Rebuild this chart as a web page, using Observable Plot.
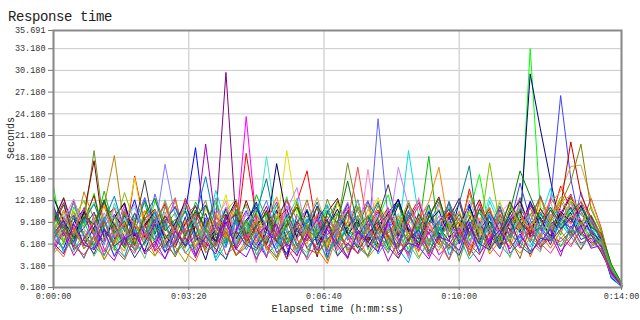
<!DOCTYPE html>
<html><head><meta charset="utf-8">
<script src="https://cdn.jsdelivr.net/npm/d3@7"></script>
<script src="https://cdn.jsdelivr.net/npm/@observablehq/plot@0.6"></script>
<style>
body{margin:0;background:#fff;}
#title{font-family:"Liberation Mono",monospace;font-size:14px;letter-spacing:-0.4px;color:#222;height:24px;line-height:34px;padding-left:8px;overflow:visible;white-space:nowrap;}
</style></head><body>
<div id="title">Response time</div>
<div id="chart"></div>
<script>
const times = [0,15,30,45,60,75,90,105,120,135,150,165,180,195,210,225,240,255,270,285,300,315,330,345,360,375,390,405,420,435,450,465,480,495,510,525,540,555,570,585,600,615,630,645,660,675,690,705,720,735,750,765,780,795,810,825,840];
const yTicks = [0.18,3.18,6.18,9.18,12.18,15.18,18.18,21.18,24.18,27.18,30.18,33.18,35.691];
const xTicks = [0,200,400,600,840];
const colors = ["#800080","#ff00ff","#ff0000","#00ff00","#000080","#4040ff","#6060ff","#00e0e0","#00c000","#e0a040","#c00000","#808000","#6b8e23","#b8860b","#800000","#0000ff","#a000c0","#8080ff","#e0e000","#40e0d0","#000060","#ff8000","#008080","#ff80c0","#80c000","#0080c0","#404040","#c080ff","#008000","#ff4040","#c000c0","#00a0ff","#ff6000","#60c060","#a0a000","#3030a0","#e04080","#00c080","#8000ff","#a05020"];

const s00 = [8.2,6.5,10.1,7.4,5.9,9.8,11.2,7.0,5.4,8.8,10.5,6.9,8.1,12.0,7.3,5.8,9.6,29.9,9.2,6.4,8.7,11.4,7.5,4.1,9.1,10.8,6.6,8.3,12.1,7.7,5.6,9.4,8.0,11.0,6.8,4.9,8.6,10.3,7.1,9.9,6.2,8.5,11.7,7.6,5.5,9.0,10.6,7.2,8.4,6.1,9.5,11.3,7.9,6.3,7.0,2.2,0.5];
const s01 = [7.1,9.4,5.8,10.6,8.2,4.6,7.9,11.5,6.3,9.0,5.2,8.7,12.4,7.0,4.8,9.3,6.6,10.2,8.0,23.8,9.1,5.6,7.4,11.0,6.0,4.3,8.5,10.9,7.2,5.9,9.7,12.2,6.8,5.0,8.3,10.5,7.6,4.5,9.2,11.8,6.4,8.0,5.3,10.1,7.8,9.6,12.6,6.9,5.4,8.8,10.4,7.3,11.6,8.1,6.2,1.6,0.3];
const s02 = [10.2,8.4,12.1,6.9,9.5,11.8,7.3,5.7,15.6,8.9,6.4,10.0,7.7,12.5,9.2,5.5,8.1,11.1,7.0,18.7,9.8,6.3,10.7,8.5,12.0,16.3,7.9,5.4,9.4,11.2,6.7,8.8,10.9,7.4,5.9,9.9,12.3,8.2,6.1,10.4,7.5,13.8,9.0,6.6,11.4,8.0,10.1,7.2,12.8,9.3,14.2,11.0,8.7,12.5,8.4,2.9,0.6];
const s03 = [14.2,6.1,11.3,8.6,13.2,7.4,5.3,10.5,8.0,6.7,12.1,9.4,7.0,5.6,10.8,8.3,11.9,6.5,9.1,7.8,3.9,10.3,8.8,12.7,6.9,9.6,7.3,11.5,5.8,8.4,10.0,6.2,9.7,13.0,7.6,5.5,8.9,11.1,6.8,9.3,7.2,10.6,15.8,8.1,6.4,9.9,7.7,33.2,11.0,8.5,10.2,7.1,9.4,6.9,7.8,2.6,0.4];
const s04 = [11.5,7.2,9.8,6.0,8.4,12.3,6.9,10.1,7.6,5.2,9.0,11.7,7.9,5.8,8.6,10.4,6.3,9.5,12.2,7.1,5.6,8.0,10.9,6.8,9.3,7.5,11.4,4.3,8.7,10.6,7.0,9.9,6.1,8.2,11.6,7.8,5.9,10.0,8.5,6.6,12.0,7.3,9.2,5.7,10.3,8.1,9.0,29.7,22.1,15.0,8.3,10.5,7.4,9.6,6.5,2.0,0.5];
const s05 = [6.8,9.9,7.5,11.2,5.4,8.7,10.3,6.2,9.1,12.6,7.4,5.0,8.9,10.7,6.5,9.8,7.1,5.7,11.0,8.2,6.0,9.4,12.0,7.8,5.5,8.6,10.1,6.7,9.3,7.0,11.3,8.0,5.8,9.7,12.4,6.6,8.3,10.8,7.2,4.0,9.0,11.5,7.6,6.1,10.2,8.8,14.6,9.5,7.3,12.1,26.7,15.2,8.4,10.0,7.1,2.5,0.7];
const s06 = [9.6,12.4,7.8,5.9,10.3,8.1,6.4,11.0,9.2,7.0,13.1,8.5,6.2,9.9,11.6,7.4,5.8,8.8,10.5,6.9,9.1,12.2,7.5,4.7,8.3,10.7,6.6,9.4,7.9,11.8,8.2,6.3,23.5,9.7,7.1,10.9,5.7,8.6,12.0,7.2,9.8,6.0,11.2,8.4,5.5,10.1,7.7,9.3,12.9,8.0,10.6,7.3,13.4,9.0,6.8,1.9,0.4];
const s07 = [5.8,8.3,10.6,7.1,9.4,6.0,11.8,8.7,5.3,9.9,7.5,12.3,8.0,6.4,10.2,7.7,13.6,9.0,6.6,8.5,11.1,7.2,5.5,9.6,12.5,6.9,8.4,10.8,7.3,4.2,9.2,11.5,6.8,8.9,7.4,19.1,10.0,6.2,8.1,11.3,7.0,9.5,5.9,12.1,8.6,6.5,10.4,7.8,9.7,13.9,8.2,11.0,7.5,8.8,6.0,1.4,0.3];
const s08 = [12.8,9.1,6.7,10.4,7.9,13.5,8.2,5.6,9.8,11.9,6.3,8.7,10.5,7.2,12.0,9.3,6.1,8.0,10.9,7.6,13.0,9.7,6.4,8.8,11.3,7.0,5.7,9.5,12.1,8.3,6.9,10.2,7.7,5.4,9.0,11.4,8.1,18.3,7.3,9.9,12.4,6.7,8.5,10.8,7.1,9.4,6.2,11.7,8.6,10.3,7.4,12.5,9.2,7.9,6.6,2.3,0.5];
const s09 = [7.3,10.0,8.4,6.2,9.6,11.4,7.7,4.3,8.9,10.8,6.6,9.2,12.0,7.9,5.8,8.5,10.6,7.0,9.8,6.4,11.2,8.1,6.8,10.3,7.5,9.0,12.6,8.2,5.6,9.4,7.1,11.0,8.7,6.3,10.1,7.8,9.3,5.9,11.7,8.0,6.5,9.9,7.4,10.7,8.3,12.2,9.1,7.6,10.5,11.8,13.5,16.9,17.1,12.4,8.2,3.1,0.8];
const s10 = [8.8,11.6,7.0,9.5,12.9,6.8,10.2,8.1,5.9,9.7,11.0,7.4,6.1,9.0,10.6,8.3,12.5,7.1,5.6,9.3,7.8,10.9,6.5,8.6,11.8,7.2,9.9,5.8,10.4,8.0,12.3,6.7,9.1,11.2,7.6,8.4,6.0,10.0,12.7,7.9,9.2,4.6,8.9,11.1,6.9,10.5,8.2,12.0,9.6,7.3,11.4,20.3,13.0,9.8,7.2,2.8,0.4];
const s11 = [6.1,8.0,10.7,7.3,5.4,9.1,11.3,6.8,8.6,7.0,10.0,5.7,8.4,12.1,6.9,9.5,7.6,11.0,5.9,8.2,10.4,7.1,9.7,6.0,8.8,12.3,7.4,3.9,9.2,10.6,6.5,8.1,11.5,7.7,9.6,6.2,10.3,8.5,7.0,12.0,8.7,10.2,6.6,9.3,7.5,11.2,8.0,10.1,12.6,9.4,11.7,14.8,20.0,11.0,8.0,3.3,0.7];
const s12 = [10.5,7.6,12.0,9.1,19.1,8.4,6.2,10.8,7.5,9.9,6.4,11.3,8.6,5.8,9.4,12.2,7.0,8.9,10.6,6.7,9.2,7.8,11.6,5.9,8.3,10.1,7.3,12.4,8.8,17.4,10.7,7.9,5.6,9.5,11.9,6.9,8.2,10.4,7.4,9.0,3.8,8.5,11.0,7.2,9.8,6.3,12.5,8.1,7.0,10.9,9.3,12.1,8.6,10.2,7.5,2.4,0.5];
const s13 = [8.0,10.9,7.2,13.4,9.6,11.5,18.4,8.3,6.0,9.4,7.7,10.3,12.6,6.6,8.8,5.9,10.0,7.4,9.2,11.7,6.3,8.6,10.5,7.9,4.5,9.0,11.2,8.1,6.8,10.2,7.5,9.8,12.1,6.2,8.4,10.7,7.1,5.7,9.1,11.0,7.8,13.2,8.9,6.4,10.4,8.2,11.6,9.0,7.3,10.0,12.2,9.5,11.3,8.7,7.0,2.7,0.6];
const s14 = [9.3,12.6,8.1,10.4,17.7,7.2,9.8,11.9,6.8,8.5,10.9,7.4,5.7,9.1,11.4,8.0,6.5,10.1,7.8,12.2,8.3,6.1,9.6,11.0,7.0,8.7,4.4,10.6,12.5,7.6,9.2,6.4,8.8,10.3,7.3,11.8,9.0,6.7,8.2,10.5,7.1,9.7,12.3,8.4,6.0,9.4,10.8,7.5,11.1,8.9,10.0,12.8,9.4,7.7,6.9,1.8,0.3];
const s15 = [7.0,5.6,9.2,11.0,7.8,6.3,10.1,8.5,12.3,7.1,9.6,5.9,8.3,10.7,19.5,8.0,6.6,11.2,7.4,9.0,12.0,6.8,8.9,4.1,10.3,7.7,9.5,11.6,6.2,8.6,10.0,7.2,5.8,9.3,12.4,8.1,6.9,10.6,7.5,9.9,6.4,11.3,8.2,10.0,5.6,9.1,7.9,12.1,8.6,6.7,9.8,8.3,10.9,7.4,5.9,1.5,0.4];
const s16 = [11.2,8.6,6.4,9.9,7.3,12.1,8.8,6.1,10.5,7.6,5.8,9.3,11.4,7.9,8.5,20.0,9.1,6.7,8.2,10.8,7.2,4.3,9.7,12.3,8.0,6.6,10.2,7.5,9.0,11.7,6.3,8.4,10.6,7.0,5.6,9.5,11.9,8.3,6.8,9.8,12.5,7.7,9.4,6.2,10.9,8.1,7.0,11.5,9.7,8.4,10.3,13.1,9.0,8.0,6.4,2.1,0.6];
const s17 = [6.6,9.0,11.8,7.4,5.9,8.7,10.2,6.8,9.5,12.4,8.1,17.2,10.0,7.6,5.7,9.2,11.1,8.4,6.3,10.6,7.7,9.4,5.8,11.5,8.6,7.1,10.4,6.4,9.1,12.0,7.5,9.8,6.9,10.9,8.3,4.2,9.6,11.6,7.2,8.5,10.7,6.1,9.0,7.8,11.9,8.8,6.5,10.3,7.6,9.2,11.0,8.2,10.5,9.1,7.3,2.6,0.4];
const s18 = [9.7,7.1,10.8,8.4,6.0,11.6,9.2,7.5,15.4,8.0,6.3,10.5,7.8,9.6,5.7,11.1,8.5,13.0,7.2,9.0,10.7,6.8,8.3,19.1,10.4,7.0,9.3,5.9,11.9,8.6,7.3,10.1,12.6,8.8,6.5,9.4,7.7,11.3,8.2,5.8,9.1,10.6,7.4,8.7,12.2,6.9,9.8,8.1,11.4,10.0,8.5,12.3,10.8,8.9,7.6,3.0,0.8];
const s19 = [8.4,10.3,6.7,9.2,12.0,7.6,4.4,9.8,11.2,8.0,6.6,9.4,7.2,10.9,8.7,6.2,12.5,7.9,9.6,11.4,8.2,18.3,9.0,6.5,10.2,7.4,8.9,11.7,6.0,9.3,12.2,7.8,5.9,8.6,10.4,7.0,9.7,6.3,11.0,8.4,7.1,10.8,8.0,12.7,9.5,7.3,10.1,8.7,6.6,11.2,9.0,7.8,10.4,8.1,6.7,1.7,0.3];
const s20 = [12.5,9.4,7.0,10.7,8.2,6.5,9.9,11.8,7.3,8.9,10.6,6.8,9.1,12.0,7.6,4.0,8.8,10.3,6.9,9.5,11.3,8.0,17.3,9.7,7.2,10.9,6.1,8.5,11.0,7.4,9.6,5.7,8.3,10.5,12.3,7.9,6.4,9.2,10.8,7.1,8.6,11.7,6.7,9.3,7.5,10.4,12.1,8.4,9.9,7.0,10.7,9.2,11.5,8.3,6.1,2.0,0.5];
const s21 = [7.8,10.6,8.3,6.1,9.7,11.4,7.5,9.0,6.4,10.8,8.6,12.1,7.0,9.3,5.9,8.1,10.5,7.3,11.9,8.8,6.6,9.4,12.7,7.7,8.5,6.2,10.3,9.1,7.4,4.1,9.9,11.5,8.2,6.9,10.1,7.6,9.5,12.0,16.8,8.3,10.7,7.2,9.6,11.3,6.8,8.9,10.4,7.9,12.4,9.8,12.0,12.9,10.2,9.0,7.4,2.9,0.6];
const s22 = [10.1,7.7,5.8,9.4,11.7,8.2,6.6,10.3,7.9,12.2,9.0,6.9,8.5,10.8,7.3,11.5,8.7,6.0,9.6,7.4,10.6,15.2,8.1,6.3,9.2,11.0,7.6,8.8,10.5,6.7,8.4,12.0,9.5,7.1,5.8,10.2,8.0,11.6,7.2,9.1,11.8,17.0,6.5,10.0,9.3,7.4,11.1,8.9,10.6,7.8,9.4,11.2,8.7,10.1,7.1,2.3,0.4];
const s23 = [5.9,8.8,10.4,7.1,9.6,6.3,11.3,8.0,5.6,9.2,10.9,7.5,6.2,8.7,10.3,7.0,9.5,12.1,6.5,8.3,3.6,9.9,7.8,10.6,6.6,11.8,8.5,7.2,9.4,10.7,6.1,16.5,7.4,11.1,9.0,6.4,12.6,8.2,10.0,7.3,8.6,5.8,9.7,7.0,10.5,11.9,8.4,6.9,9.3,12.0,8.0,10.2,9.6,7.5,6.3,1.9,0.3];
const s24 = [8.6,6.4,9.9,12.2,7.7,10.0,8.3,13.3,9.1,6.7,10.8,8.2,7.0,11.5,9.4,6.1,8.0,10.7,12.4,7.6,9.3,6.9,10.1,8.4,11.9,9.0,7.1,5.7,10.5,8.7,11.4,7.3,9.8,6.0,8.5,12.2,7.9,10.3,6.6,9.2,8.0,10.9,7.7,17.4,9.0,11.6,8.5,10.4,7.2,9.6,12.7,10.0,8.8,11.4,7.8,3.2,0.9];
const s25 = [11.0,8.5,10.2,7.3,6.0,9.4,12.8,7.9,10.4,8.1,6.8,9.5,11.2,7.7,10.0,15.5,8.6,6.3,9.9,7.2,11.7,8.4,6.6,10.3,7.8,9.1,12.0,6.9,8.2,10.6,7.5,9.3,11.9,8.5,6.2,10.7,7.3,9.6,8.0,12.1,6.7,9.0,10.5,8.3,11.4,7.1,9.5,6.4,10.3,8.6,9.9,7.7,11.1,9.3,6.8,2.4,0.3];
const s26 = [9.2,11.9,6.9,8.4,10.6,7.2,9.0,5.7,8.8,15.0,7.6,10.1,8.3,6.0,9.7,11.6,7.4,9.1,10.3,6.5,8.6,10.7,7.3,9.5,5.9,8.0,11.4,9.3,6.4,10.8,8.1,7.0,9.9,14.4,8.7,6.6,10.4,7.5,9.4,11.0,7.2,8.9,6.2,10.6,8.0,12.0,9.2,7.6,8.5,10.9,8.3,9.7,7.4,10.0,6.9,2.2,0.5];
const s27 = [7.5,9.6,12.4,8.2,6.8,10.5,7.1,9.3,11.7,6.4,8.9,10.6,7.7,12.0,9.0,6.6,8.4,11.3,7.8,10.2,9.4,7.0,8.8,10.9,14.0,7.5,9.7,4.8,8.6,11.1,9.8,7.2,10.4,8.0,16.8,11.4,8.9,7.4,10.1,9.2,6.9,12.2,8.7,10.5,7.3,9.6,11.5,8.8,7.0,10.3,9.1,11.8,8.0,9.6,7.2,2.5,0.6];
const s28 = [10.7,8.1,6.5,10.0,8.9,12.3,7.7,9.4,6.1,10.2,12.5,8.0,9.6,7.3,10.9,8.4,6.7,9.8,11.6,7.5,8.7,10.4,6.4,9.0,11.3,8.2,7.0,10.5,9.1,14.9,8.6,10.0,7.6,9.4,11.8,8.3,6.8,9.9,12.4,8.0,10.3,7.4,11.0,9.2,6.6,10.7,16.3,12.8,9.4,11.3,8.8,10.6,12.0,8.5,7.7,3.4,0.8];
const s29 = [6.9,9.8,8.0,11.1,7.4,9.5,6.2,10.6,8.7,7.0,9.3,11.8,6.6,8.2,10.4,7.1,9.9,8.6,12.0,6.8,10.1,8.5,7.2,12.3,9.6,6.7,8.1,10.0,7.6,9.2,16.8,8.4,6.9,10.3,7.8,9.1,11.4,6.5,8.8,10.6,9.5,7.5,11.9,8.1,10.2,7.0,9.3,11.2,8.0,12.6,10.5,8.9,12.1,9.7,7.3,2.8,0.4];
const s30 = [5.2,7.8,4.6,6.9,9.1,5.5,3.9,7.3,8.6,4.8,6.2,9.4,5.0,7.1,4.3,8.2,6.0,10.1,5.4,7.6,4.1,6.8,8.9,5.7,3.6,7.4,9.6,5.1,6.5,4.4,8.0,5.9,7.2,3.8,6.6,9.0,5.3,7.9,4.7,6.1,8.4,5.6,3.7,7.0,9.3,4.9,6.4,8.1,5.8,7.5,4.5,8.7,6.3,7.0,5.2,2.0,0.4];
const s31 = [8.1,5.3,6.7,4.2,7.5,9.8,5.9,4.4,8.3,6.2,10.6,5.7,7.4,4.9,6.8,8.8,3.9,6.1,9.2,5.4,7.7,4.6,6.3,8.5,5.0,9.7,6.9,4.3,7.8,5.6,6.4,8.9,4.8,7.0,5.5,3.6,8.2,6.0,9.4,4.7,6.6,7.9,5.2,10.3,6.1,4.5,7.3,5.8,8.6,6.7,9.0,7.2,5.5,8.3,5.9,2.6,0.5];
const s32 = [6.0,4.4,8.2,5.6,7.3,4.1,6.5,9.0,5.2,7.7,4.6,6.3,8.7,5.0,3.8,7.1,5.9,8.4,4.7,6.6,9.5,5.3,7.0,4.2,6.1,8.0,5.5,3.5,7.6,6.2,4.9,8.8,5.7,6.9,4.3,7.4,5.1,9.2,6.4,4.0,7.2,5.4,8.5,4.8,6.7,5.9,9.1,4.4,7.5,5.6,8.0,6.1,7.9,5.8,6.6,2.3,0.3];
const s33 = [9.3,6.8,5.1,8.0,4.5,7.2,10.0,5.8,6.9,4.2,8.4,6.0,4.7,7.8,9.6,5.3,6.5,4.0,7.4,8.9,5.6,7.1,4.4,9.9,6.2,5.0,8.1,6.7,4.6,7.5,10.2,5.4,7.9,4.9,8.6,6.3,4.1,7.0,5.7,8.3,4.8,6.6,9.0,5.2,7.7,4.3,8.8,6.4,5.1,9.4,6.9,8.5,6.0,7.4,6.2,2.8,0.6];
const s34 = [4.9,6.4,8.8,5.5,7.1,4.0,6.7,5.2,9.3,6.0,4.5,7.6,5.8,3.7,6.9,8.5,5.1,7.3,4.6,6.2,8.0,5.7,3.9,7.2,5.4,8.7,4.8,6.6,9.1,5.0,7.4,4.3,6.1,8.2,5.6,7.8,4.4,6.3,5.3,7.9,9.6,4.7,6.8,5.5,8.3,6.4,4.9,7.1,6.0,8.9,5.8,7.3,9.2,6.5,5.4,2.1,0.4];
const s35 = [7.6,9.5,5.4,6.8,4.8,8.3,5.9,7.0,4.3,6.5,8.9,5.1,6.4,9.9,4.6,7.3,5.5,4.1,8.0,6.1,5.3,7.8,6.6,4.9,8.4,5.7,7.2,9.6,4.5,6.3,5.0,7.6,9.3,5.8,4.2,6.9,8.1,5.2,7.4,6.0,4.6,8.5,6.2,5.4,7.6,9.8,5.9,4.8,7.0,6.6,8.2,9.9,6.8,7.5,5.0,2.4,0.3];
const s36 = [5.7,8.0,6.3,4.3,7.4,5.1,8.6,6.6,4.9,7.9,5.6,4.2,6.8,8.3,5.4,6.1,9.2,4.7,5.9,7.5,6.2,4.5,8.1,5.8,7.0,4.0,6.4,8.8,5.3,7.2,4.8,6.5,5.2,8.9,6.7,4.6,7.7,5.5,3.9,6.8,8.2,5.0,7.3,6.1,4.4,8.0,5.6,9.0,6.3,4.9,7.1,5.8,8.4,6.6,5.5,1.9,0.5];
const s37 = [8.7,5.0,7.2,9.4,5.9,4.6,7.7,8.5,5.3,6.2,7.9,9.1,4.8,6.5,5.6,8.2,4.3,7.0,6.0,9.5,4.7,6.9,5.5,8.0,6.3,4.4,9.0,5.2,6.6,8.4,5.8,4.5,7.1,6.2,9.7,5.1,6.8,4.9,8.6,5.4,7.2,4.1,6.0,8.8,5.7,7.4,6.5,5.0,9.3,7.0,5.9,8.1,7.6,6.0,6.8,2.9,0.7];
const s38 = [6.3,4.8,9.0,6.1,5.4,8.1,4.5,6.9,7.8,5.0,6.6,4.1,8.0,5.9,7.3,6.4,4.8,9.3,5.5,4.4,7.4,8.6,5.0,6.2,4.6,7.6,5.3,8.2,6.0,4.2,7.8,6.5,5.1,9.4,4.7,6.3,5.8,4.1,7.2,6.6,5.3,9.2,4.9,6.7,8.1,5.5,7.6,5.2,6.4,8.3,5.1,7.0,8.8,5.6,6.0,2.2,0.4];
const s39 = [7.0,8.9,5.8,4.7,6.6,9.3,5.6,4.0,7.1,8.8,5.2,6.7,4.4,7.6,8.7,5.0,6.2,7.9,4.6,5.8,8.5,6.0,4.3,7.5,9.1,5.5,4.9,6.8,8.3,5.4,6.1,4.6,8.4,7.3,5.0,6.4,9.8,4.8,6.9,5.6,7.7,6.2,4.7,7.9,5.9,6.8,4.2,8.6,5.7,7.1,6.5,8.0,5.4,7.8,5.7,2.5,0.6];

const allSeries = [s00,s01,s02,s03,s04,s05,s06,s07,s08,s09,s10,s11,s12,s13,s14,s15,s16,s17,s18,s19,s20,s21,s22,s23,s24,s25,s26,s27,s28,s29,s30,s31,s32,s33,s34,s35,s36,s37,s38,s39];

const data = [];
allSeries.forEach((vals, k) => vals.forEach((v, i) => data.push({t: times[i], v, s: k, c: colors[k]})));

const p2 = n => String(n).padStart(2, "0");
const fmtTime = s => `${Math.floor(s / 3600)}:${p2(Math.floor((s % 3600) / 60))}:${p2(s % 60)}`;

const chart = Plot.plot({
  width: 640, height: 296,
  marginLeft: 53, marginRight: 19, marginTop: 6, marginBottom: 33,
  style: {fontFamily: "'Liberation Mono', monospace", fontSize: "8.5px", color: "#333", background: "#fff", overflow: "visible"},
  x: {domain: [0, 840]},
  y: {domain: [0.18, 35.691]},
  color: {type: "identity"},
  marks: [
    Plot.gridY(yTicks, {stroke: "#c8c8c8", strokeOpacity: 1}),
    Plot.gridX(xTicks, {stroke: "#d6d6d6", strokeOpacity: 1, strokeWidth: 1.5}),
    Plot.line(data, {x: "t", y: "v", z: "s", stroke: "c", strokeWidth: 1}),
    Plot.frame({stroke: "#8a8a8a", strokeWidth: 2}),
    Plot.axisY(yTicks, {tickFormat: d => d.toFixed(3), tickSize: 5, tickPadding: 3, stroke: "#777", label: null}),
    Plot.axisX(xTicks, {tickFormat: fmtTime, tickSize: 3, tickPadding: 2, stroke: "#777", label: null}),
    Plot.text(["Seconds"], {frameAnchor: "left", dx: -43, rotate: -90, fontSize: 10, fill: "#222"}),
    Plot.text(["Elapsed time (h:mm:ss)"], {frameAnchor: "bottom", dy: 24, fontSize: 10, fill: "#222"})
  ]
});
document.getElementById("chart").appendChild(chart);
</script>
</body></html>
